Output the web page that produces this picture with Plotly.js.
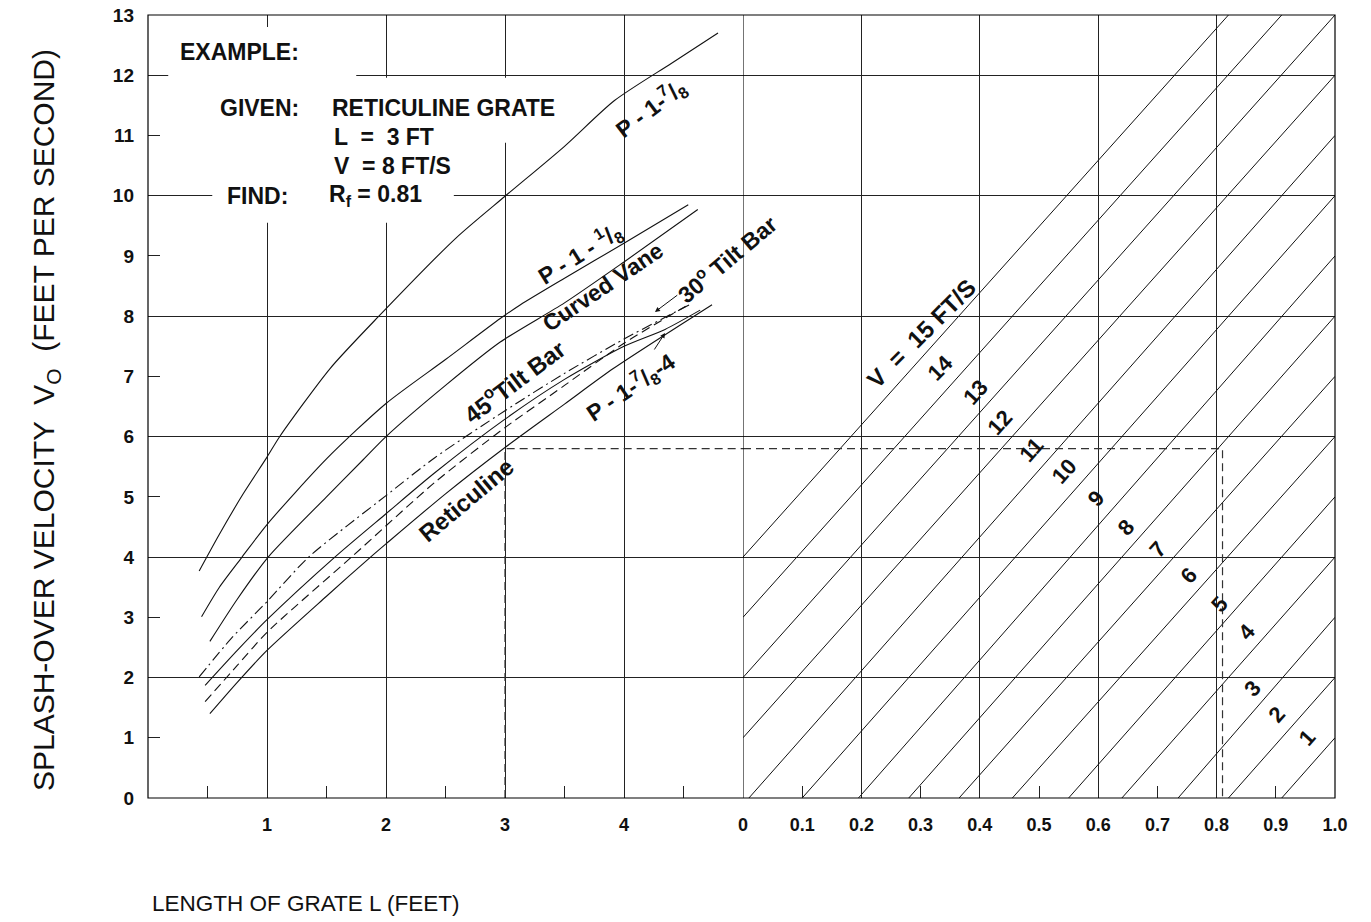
<!DOCTYPE html>
<html><head><meta charset="utf-8">
<script src="https://cdn.plot.ly/plotly-3.0.1.min.js"></script>
<style>body{margin:0;background:#fff}#chart{width:1371px;height:922px}</style>
</head><body><div id="chart"></div>
<script>
// ---- Left panel: splash-over velocity curves, L (ft) vs Vo (ft/s) ----
const p178L  = [0.43,0.6,0.8,1.0,1.11,1.53,1.94,2.59,3.0,3.5,3.92,4.4,4.79];
const p178V  = [3.77,4.38,5.05,5.66,6.01,7.13,8.0,9.3,9.99,10.82,11.58,12.2,12.7];
const p118L  = [0.45,0.6,0.79,1.0,1.5,2.0,2.5,2.96,3.13,3.5,4.0,4.54];
const p118V  = [3.01,3.5,4.0,4.54,5.63,6.55,7.28,7.96,8.19,8.63,9.21,9.85];
const vaneL  = [0.52,0.75,1.01,1.5,1.81,2.0,2.5,2.96,3.5,4.0,4.62];
const vaneV  = [2.6,3.3,4.0,5.0,5.62,6.0,6.85,7.57,8.22,8.9,9.77];
const tilt45L = [0.43,0.7,1.0,1.35,2.0,2.41,3.0,3.5,4.0,4.57];
const tilt45V = [2.01,2.65,3.26,4.0,5.02,5.65,6.43,7.05,7.62,8.21];
const p1784L = [0.48,0.75,1.0,1.57,2.0,2.41,3.0,3.5,4.0,4.345,4.64];
const p1784V = [1.87,2.45,2.96,4.0,4.72,5.4,6.29,6.95,7.5,7.78,8.1];
const tilt30L = [0.48,0.75,1.0,1.71,2.41,3.0,3.5,4.0,4.55];
const tilt30V = [1.6,2.2,2.75,4.0,5.24,6.15,6.85,7.55,8.2];
const reticL = [0.52,0.75,1.0,1.5,1.87,2.0,2.5,3.0,3.5,3.91,4.74];
const reticV = [1.40,1.92,2.45,3.35,4.0,4.22,5.05,5.82,6.54,7.13,8.19];

// ---- Right panel: V lines, Rf vs Vo (start / end points) ----
const vLines   = [1,2,3,4,5,6,7,8,9,10,11,12,13,14,15];
const vRfStart = [0.91,0.82,0.735,0.64,0.55,0.455,0.365,0.28,0.195,0.10,0.01,0,0,0,0];
const vVoStart = [0,0,0,0,0,0,0,0,0,0,0,1.0,2.0,3.0,4.0];
const vRfEnd   = [1,1,1,1,1,1,1,1,1,1,1,1,1,0.91,0.82];
const vVoEnd   = [1,2,3,4,5,6,7,8,9,10,11,12,13,13,13];

// ---- Worked example ----
const exL = 3, exVo = 5.8, exRf = 0.81;

// ---- Ticks ----
const yTicks = [0,1,2,3,4,5,6,7,8,9,10,11,12,13];
const yGrid = [2,4,6,8,10,12];
const lTicks = [1,2,3,4];
const lMinor = [0.5,1.5,2.5,3.5,4.5];
const rfTicks = [0,0.1,0.2,0.3,0.4,0.5,0.6,0.7,0.8,0.9,1.0];
const rfTickText = ['0','0.1','0.2','0.3','0.4','0.5','0.6','0.7','0.8','0.9','1.0'];
const rfGrid = [0.2,0.4,0.6,0.8];

const FONT = 'Liberation Sans, Arial, Helvetica, sans-serif';
const INK = '#111';

function curve(x, y, dash) {
  return {x, y, xaxis:'x', yaxis:'y', mode:'lines', hoverinfo:'skip',
    line:{color:INK, width:1.1, shape:'spline', smoothing:0.7, dash: dash || 'solid'}};
}
const traces = [
  curve(p178L, p178V),
  curve(p118L, p118V),
  curve(vaneL, vaneV),
  curve(tilt45L, tilt45V, '11px,4px,2px,4px'),
  curve(p1784L, p1784V),
  curve(tilt30L, tilt30V, '9px,5px'),
  curve(reticL, reticV)
];
const vx = [], vy = [];
for (let i = 0; i < vLines.length; i++) {
  vx.push(vRfStart[i], vRfEnd[i], null);
  vy.push(vVoStart[i], vVoEnd[i], null);
}
traces.push({x:vx, y:vy, xaxis:'x2', yaxis:'y', mode:'lines', hoverinfo:'skip',
  line:{color:INK, width:1}});
traces.push({x:[exL, exL, 5], y:[0, exVo, exVo], xaxis:'x', yaxis:'y', mode:'lines',
  hoverinfo:'skip', line:{color:'#333', width:1.2, dash:'8px,5px'}});
traces.push({x:[0, exRf, exRf], y:[exVo, exVo, 0], xaxis:'x2', yaxis:'y', mode:'lines',
  hoverinfo:'skip', line:{color:'#333', width:1.2, dash:'8px,5px'}});

const split = 595/1187;
function lab(text, x, y, ang, xr, size) {
  return {text, x, y, xref: xr || 'x', yref:'y', showarrow:false, textangle:ang,
    font:{family:FONT, size:size || 23, color:INK, weight:'bold'}};
}
function txt(text, x, y) {
  return {text, x, y, xref:'x', yref:'y', xanchor:'left', showarrow:false,
    font:{family:FONT, size:23, color:INK, weight:'bold'}};
}
const annotations = [
  txt('EXAMPLE:', 0.25, 12.38),
  txt('GIVEN:', 0.59, 11.46),
  txt('RETICULINE GRATE', 1.53, 11.46),
  txt('L  =  3 FT', 1.55, 10.98),
  txt('V  = 8 FT/S', 1.55, 10.5),
  txt('FIND:', 0.65, 10.0),
  txt('R<sub>f</sub> = 0.81', 1.5, 10.0),
  lab('P - 1-<sup>7</sup>/<sub>8</sub>', 4.22, 11.46, -37),
  lab('P - 1 - <sup>1</sup>/<sub>8</sub>', 3.63, 9.05, -32),
  lab('Curved Vane', 3.82, 8.49, -34),
  lab('45<sup>o</sup>Tilt Bar', 3.07, 6.93, -37, 'x', 24),
  lab('Reticuline', 2.68, 4.95, -40, 'x', 24),
  {text:'30<sup>o</sup> Tilt Bar', x:4.26, y:8.07, xref:'x', yref:'y', textangle:-40,
   showarrow:true, ax:72, ay:-54, arrowhead:2, arrowsize:1, arrowwidth:1, arrowcolor:INK,
   font:{family:FONT, size:23, color:INK, weight:'bold'}},
  {text:'P - 1-<sup>7</sup>/<sub>8</sub>-4', x:4.345, y:7.72, xref:'x', yref:'y', textangle:-34,
   showarrow:true, ax:-35, ay:54, arrowhead:2, arrowsize:1, arrowwidth:1, arrowcolor:INK,
   font:{family:FONT, size:23, color:INK, weight:'bold'}},
  lab('V  =  15 FT/S', 0.301, 7.72, -45, 'x2', 24),
  lab('14', 0.334, 7.14, -45, 'x2', 22),
  lab('13', 0.392, 6.74, -48, 'x2', 22),
  lab('12', 0.434, 6.23, -48, 'x2', 22),
  lab('11', 0.488, 5.78, -48, 'x2', 22),
  lab('10', 0.542, 5.42, -48, 'x2', 22),
  lab('9', 0.596, 4.97, -48, 'x2', 22),
  lab('8', 0.647, 4.49, -48, 'x2', 22),
  lab('7', 0.701, 4.12, -48, 'x2', 22),
  lab('6', 0.753, 3.69, -48, 'x2', 22),
  lab('5', 0.804, 3.22, -48, 'x2', 22),
  lab('4', 0.851, 2.77, -48, 'x2', 22),
  lab('3', 0.861, 1.81, -48, 'x2', 22),
  lab('2', 0.902, 1.38, -48, 'x2', 22),
  lab('1', 0.953, 1.0, -48, 'x2', 22),
  {text:'SPLASH-OVER VELOCITY  V<sub>O</sub>  (FEET PER SECOND)', xref:'paper', yref:'paper',
   x:-0.103, y:0.483, textangle:-90, showarrow:false, font:{family:FONT, size:30, color:INK}},
  {text:'LENGTH OF GRATE L (FEET)', xref:'paper', yref:'paper', x:0.0017, y:-0.153,
   xanchor:'left', showarrow:false, font:{family:FONT, size:22.5, color:INK}}
];

const shapes = [
  {type:'rect', xref:'x', yref:'y', x0:0.17, x1:1.75, y0:11.95, y1:12.8, layer:'between',
   line:{width:0}, fillcolor:'#fff'},
  {type:'rect', xref:'x', yref:'y', x0:0.54, x1:3.5, y0:10.88, y1:11.96, layer:'between',
   line:{width:0}, fillcolor:'#fff'},
  {type:'rect', xref:'x', yref:'y', x0:0.54, x1:2.57, y0:9.55, y1:10.9, layer:'between',
   line:{width:0}, fillcolor:'#fff'},
  {type:'rect', xref:'paper', yref:'paper', x0:0, x1:1, y0:0, y1:1, layer:'above',
   line:{color:'#000', width:1.2}, fillcolor:'rgba(0,0,0,0)'},
  {type:'line', xref:'x2', yref:'y', x0:0, x1:0, y0:0, y1:13, layer:'above',
   line:{color:'#000', width:1.1}}
];

const xTickFont = {family:FONT, size:18, color:INK, weight:'bold'};
const yTickFont = {family:FONT, size:19, color:INK, weight:'bold'};
const layout = {
  width:1371, height:922,
  margin:{l:148, r:36, t:15, b:124},
  paper_bgcolor:'#fff', plot_bgcolor:'#fff',
  showlegend:false,
  xaxis:{domain:[0, split], range:[0,5], tickmode:'array', tickvals:lTicks,
    ticktext:lTicks.map(String), showgrid:true, gridcolor:'#222', gridwidth:1,
    ticks:'', zeroline:false, showline:false,
    tickfont:xTickFont, ticklabelstandoff:14,
    minor:{tickmode:'array', tickvals:lMinor, ticks:'inside', ticklen:12, tickcolor:'#222',
      tickwidth:1, showgrid:false}},
  xaxis2:{domain:[split, 1], range:[0,1], anchor:'y', tickmode:'array', tickvals:rfTicks,
    ticktext:rfTickText, showgrid:false, ticks:'inside', ticklen:12, tickcolor:'#222',
    zeroline:false, showline:false,
    tickfont:xTickFont, ticklabelstandoff:14,
    minor:{tickmode:'array', tickvals:rfGrid, showgrid:true, gridcolor:'#222', gridwidth:1,
      ticks:''}},
  yaxis:{range:[0,13], tickmode:'array', tickvals:yTicks, ticktext:yTicks.map(String),
    showgrid:false, ticks:'inside', ticklen:12, tickcolor:'#222', zeroline:false,
    showline:false, tickfont:yTickFont, ticklabelstandoff:13,
    minor:{tickmode:'array', tickvals:yGrid, showgrid:true, gridcolor:'#222', gridwidth:1,
      ticks:''}},
  annotations, shapes
};
Plotly.newPlot('chart', traces, layout, {staticPlot:true, displayModeBar:false});
</script>
</body></html>
